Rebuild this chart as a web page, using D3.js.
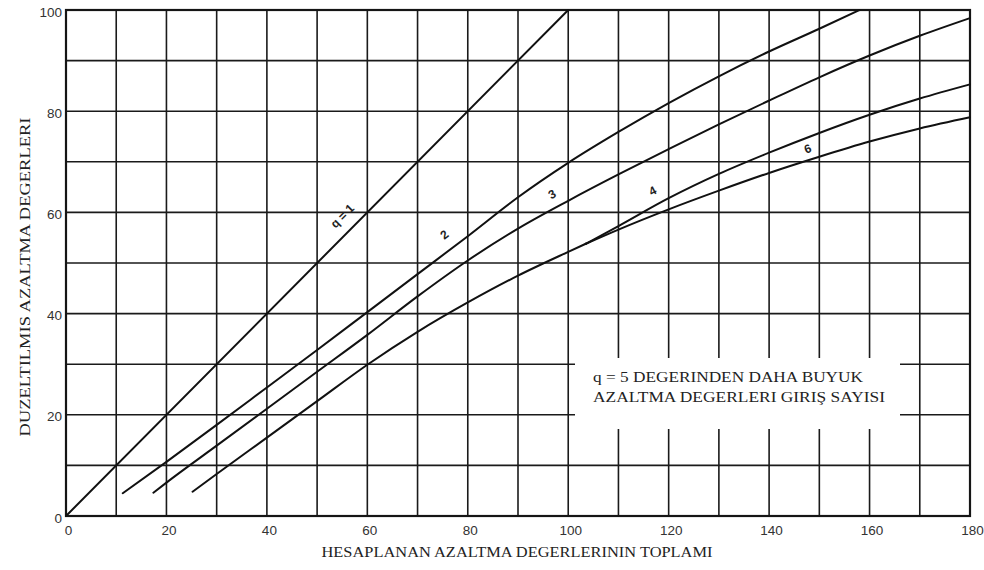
<!DOCTYPE html>
<html>
<head>
<meta charset="utf-8">
<script src="https://cdn.jsdelivr.net/npm/d3@7/dist/d3.min.js"></script>
<style>
  html, body { margin: 0; padding: 0; background: #fff; }
  svg { display: block; }
</style>
</head>
<body>
<div id="chart"></div>
<script>
// ---- data ----
const xTicks = [0, 20, 40, 60, 80, 100, 120, 140, 160, 180];
const yTicks = [0, 20, 40, 60, 80, 100];
const gridStep = 10;

const curveQ1 = [[0, 0], [100, 100]];
const curveQ2 = [[11.3, 4.5], [20, 10.7], [30, 18.0], [40, 25.4], [50, 32.8], [60, 40.3], [70, 47.8],
                 [80, 55.3], [90, 63.0], [100, 69.8], [110, 75.9], [120, 81.6], [130, 86.9],
                 [140, 91.8], [150, 96.3], [158, 100]];
const curveQ3 = [[17.4, 4.6], [20, 6.6], [30, 13.9], [40, 21.2], [50, 28.5], [60, 35.8], [70, 43.4],
                 [80, 50.5], [90, 56.8], [100, 62.3], [110, 67.5], [120, 72.5], [130, 77.4],
                 [140, 82.1], [150, 86.7], [160, 91.0], [170, 94.9], [180, 98.4]];
const curveBase = [[25.2, 4.8], [30, 8.3], [40, 15.5], [50, 22.7], [60, 29.9], [70, 36.4], [80, 42.2],
                   [90, 47.5], [100, 52.2], [103.5, 53.8]];
const curveQ4 = [[103.5, 53.8], [110, 57.3], [120, 62.8], [130, 67.6], [140, 71.8], [150, 75.7],
                 [160, 79.3], [170, 82.5], [180, 85.3]];
const curveQ6 = [[103.5, 53.8], [110, 56.6], [120, 60.6], [130, 64.3], [140, 67.8], [150, 71.0],
                 [160, 74.0], [170, 76.6], [180, 78.8]];

const curveLabels = [
  { text: "q = 1", x: 55, y: 59.3, angle: -45 },
  { text: "2", x: 75.3, y: 55.6, angle: -38 },
  { text: "3", x: 96.8, y: 63.6, angle: -30 },
  { text: "4", x: 116.8, y: 64.3, angle: -27 },
  { text: "6", x: 147.7, y: 72.6, angle: -20 }
];

const xTitle = "HESAPLANAN AZALTMA DEGERLERININ TOPLAMI";
const yTitle = "DUZELTILMIS AZALTMA DEGERLERI";
const noteLines = ["q = 5 DEGERINDEN DAHA BUYUK", "AZALTMA DEGERLERI GIRIŞ SAYISI"];

// ---- layout ----
const W = 984, H = 570;
const x = d3.scaleLinear().domain([0, 180]).range([66, 970]);
const y = d3.scaleLinear().domain([0, 100]).range([516, 10]);

const svg = d3.select("#chart").append("svg").attr("width", W).attr("height", H);

// grid
const grid = svg.append("g").attr("stroke", "#1a1a1a").attr("stroke-width", 1.6);
grid.selectAll("line.v").data(d3.range(gridStep, 180, gridStep)).join("line")
  .attr("x1", d => x(d)).attr("x2", d => x(d)).attr("y1", y(0)).attr("y2", y(100));
grid.selectAll("line.h").data(d3.range(gridStep, 100, gridStep)).join("line")
  .attr("y1", d => y(d)).attr("y2", d => y(d)).attr("x1", x(0)).attr("x2", x(180));

// white box for note
svg.append("rect").attr("x", 575).attr("y", 358).attr("width", 325).attr("height", 71).attr("fill", "#fff");

// frame
svg.append("rect").attr("x", x(0)).attr("y", y(100)).attr("width", x(180) - x(0)).attr("height", y(0) - y(100))
  .attr("fill", "none").attr("stroke", "#151515").attr("stroke-width", 2.2);

// axes tick labels
const xAxis = svg.append("g").attr("transform", `translate(0,${y(0)})`)
  .call(d3.axisBottom(x).tickValues(xTicks).tickSize(0).tickPadding(9).tickFormat(d3.format("d")));
const yAxis = svg.append("g").attr("transform", `translate(${x(0)},0)`)
  .call(d3.axisLeft(y).tickValues(yTicks).tickSize(0).tickPadding(4).tickFormat(d3.format("d")));
[xAxis, yAxis].forEach(g => {
  g.select(".domain").remove();
  g.selectAll("text").attr("font-family", "Liberation Sans, Arial, sans-serif")
    .attr("font-size", 13.5).attr("fill", "#333");
});
xAxis.selectAll("text").attr("dx", 2);
yAxis.selectAll("text").attr("dy", "0.45em");

// curves
const line = d3.line().x(d => x(d[0])).y(d => y(d[1])).curve(d3.curveMonotoneX);
const curves = [curveQ1, curveQ2, curveQ3, curveBase, curveQ4, curveQ6];
svg.append("g").selectAll("path").data(curves).join("path")
  .attr("d", line).attr("fill", "none").attr("stroke", "#111").attr("stroke-width", 2)
  .attr("stroke-linecap", "round");

// curve labels
svg.append("g").selectAll("text").data(curveLabels).join("text")
  .attr("transform", d => `translate(${x(d.x)},${y(d.y)}) rotate(${d.angle})`)
  .attr("text-anchor", "middle").attr("dy", "0.35em")
  .attr("font-family", "Liberation Sans, Arial, sans-serif").attr("font-size", 12).attr("font-weight", "bold")
  .attr("fill", "#222").text(d => d.text);

// titles
svg.append("text").attr("x", 517).attr("y", 557).attr("text-anchor", "middle")
  .attr("font-family", "Liberation Serif, Times New Roman, serif").attr("font-size", 15).attr("fill", "#222")
  .attr("textLength", 391).attr("lengthAdjust", "spacingAndGlyphs").text(xTitle);
svg.append("text").attr("transform", "translate(30,277) rotate(-90)").attr("text-anchor", "middle")
  .attr("font-family", "Liberation Serif, Times New Roman, serif").attr("font-size", 15).attr("fill", "#222")
  .attr("textLength", 319).attr("lengthAdjust", "spacingAndGlyphs").text(yTitle);

// note
svg.append("g").selectAll("text").data(noteLines).join("text")
  .attr("x", 593).attr("y", (d, i) => 382 + i * 20)
  .attr("font-family", "Liberation Serif, Times New Roman, serif").attr("font-size", 15).attr("fill", "#222")
  .attr("textLength", (d, i) => i === 0 ? 270 : 292).attr("lengthAdjust", "spacingAndGlyphs")
  .text(d => d);
</script>
</body>
</html>
